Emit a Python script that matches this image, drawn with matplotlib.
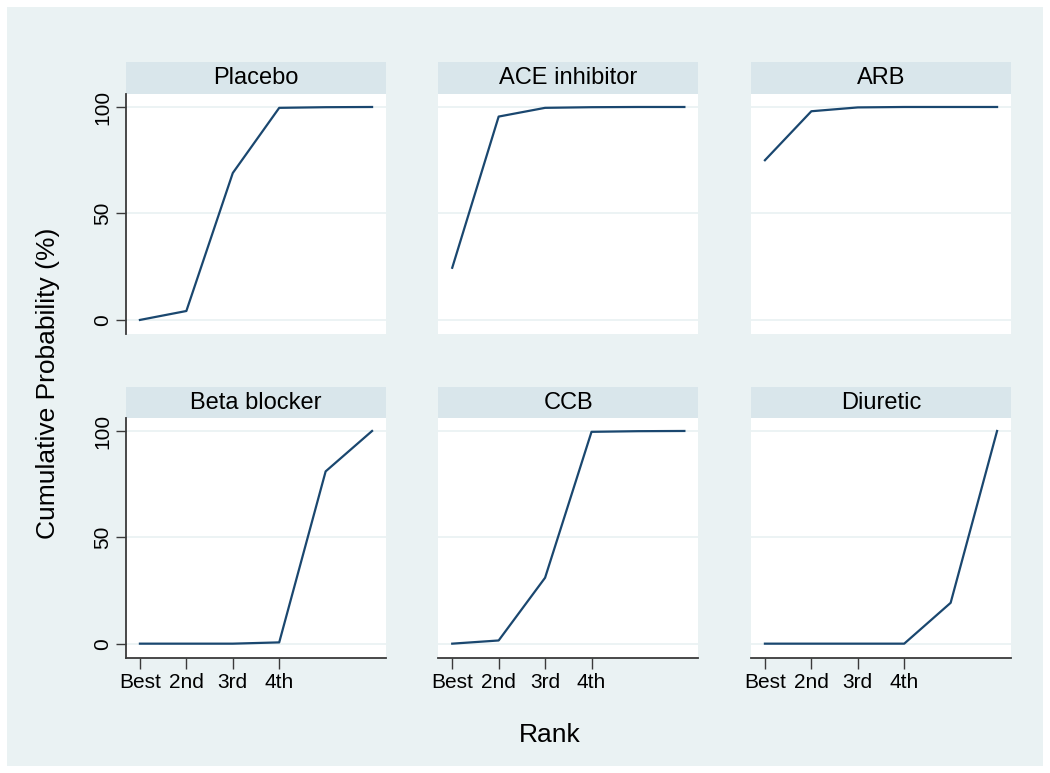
import matplotlib
matplotlib.use("Agg")
from matplotlib import pyplot as plt
from matplotlib.patches import Rectangle

plt.rcParams['font.family'] = ['Liberation Sans', 'DejaVu Sans']

ranks = [1, 2, 3, 4, 5, 6]
rank_labels = ['Best', '2nd', '3rd', '4th']
treatments = ['Placebo', 'ACE inhibitor', 'ARB', 'Beta blocker', 'CCB', 'Diuretic']
placebo = [0, 4.2, 69, 99.6, 99.9, 100]
ace = [24.5, 95.5, 99.6, 99.9, 100, 100]
arb = [75, 98, 99.8, 100, 100, 100]
beta = [0, 0, 0, 0.6, 81, 100]
ccb = [0, 1.5, 31, 99.6, 99.9, 100]
diuretic = [0, 0, 0, 0, 19.2, 100]
series = [placebo, ace, arb, beta, ccb, diuretic]

W, H = 1050, 773
bg = '#eaf2f3'
strip = '#d9e6eb'
navy = '#1a476f'
axcol = '#3a3a3a'

fig = plt.figure(figsize=(W / 100, H / 100), dpi=100)
fig.patch.set_facecolor('white')
fig.patches.append(Rectangle((7 / W, 7 / H), (W - 14) / W, (H - 14) / H,
                             transform=fig.transFigure, facecolor=bg,
                             edgecolor='none', zorder=-5))

col_x = [126, 438.3, 751]
pw = 260
rows = [(94, 334, 62), (418, 657.7, 387)]  # plot top, plot bottom, strip top

for i, (name, vals) in enumerate(zip(treatments, series)):
    r, c = divmod(i, 3)
    top, bot, stop = rows[r]
    x0 = col_x[c]
    ax = fig.add_axes([x0 / W, 1 - bot / H, pw / W, (bot - top) / H])
    ax.set_facecolor('white')
    # strip title
    fig.patches.append(Rectangle((x0 / W, 1 - top / H), pw / W, (top - stop) / H,
                                 transform=fig.transFigure, facecolor=strip,
                                 edgecolor='none', zorder=-4))
    fig.text((x0 + pw / 2) / W, 1 - (top + stop) / 2 / H, name, ha='center',
             va='center', fontsize=17, color='black')

    for g in [0, 50, 100]:
        ax.axhline(g, color=bg, lw=1.3, zorder=1)
    ax.plot(ranks, vals, color=navy, lw=1.6, zorder=3)
    ax.set_xlim(0.7, 6.3)
    ax.set_ylim(-6.6, 106.1)

    for s in ax.spines.values():
        s.set_visible(False)
    if c == 0:
        ax.spines['left'].set_visible(True)
        ax.spines['left'].set_color(axcol)
        ax.spines['left'].set_linewidth(1.3)
        ax.set_yticks([0, 50, 100])
        ax.set_yticklabels(['0', '50', '100'], rotation=90, va='center')
        ax.tick_params(axis='y', length=7, width=1, color=axcol,
                       labelsize=15, pad=3)
    else:
        ax.set_yticks([])
    if r == 1:
        ax.spines['bottom'].set_visible(True)
        ax.spines['bottom'].set_color(axcol)
        ax.spines['bottom'].set_linewidth(1.3)
        ax.set_xticks(ranks[:4])
        ax.set_xticklabels(rank_labels)
        ax.tick_params(axis='x', length=8, width=1, color=axcol,
                       labelsize=15, pad=3)
    else:
        ax.set_xticks([])

fig.text(48 / W, 1 - 383 / H, 'Cumulative Probability (%)', rotation=90,
         ha='center', va='center', fontsize=19)
fig.text(550 / W, 1 - 735 / H, 'Rank', ha='center', va='center', fontsize=19)

fig.savefig('out.png', dpi=100, facecolor='white')
